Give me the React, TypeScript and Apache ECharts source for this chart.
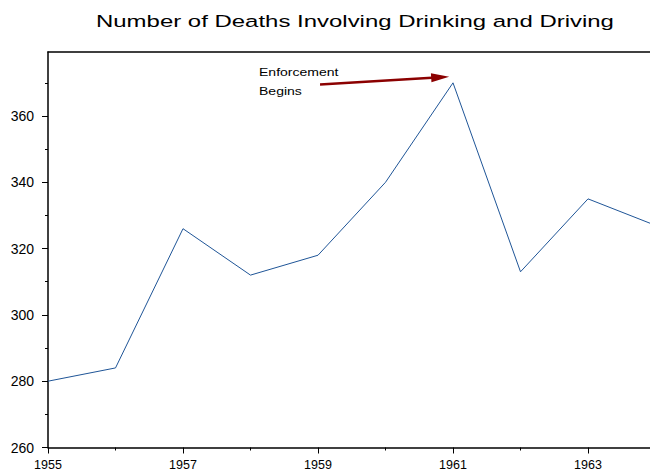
import React, { useEffect, useRef } from "react";
import * as echarts from "echarts";

const years = [1955, 1956, 1957, 1958, 1959, 1960, 1961, 1962, 1963, 1964];
const deaths = [280, 284, 326, 312, 318, 340, 370, 313, 335, 327];
const yMajorTicks = [260, 280, 300, 320, 340, 360];
const yMinorTicks = [270, 290, 310, 330, 350, 370];
const xLabelYears = [1955, 1957, 1959, 1961, 1963];
const titleText = "Number of Deaths Involving Drinking and Driving";
const noteLines = ["Enforcement", "Begins"];
const arrowFrom = [1959.03, 369.5];
const arrowTo = [1960.81, 371.7];

export default function App() {
  const ref = useRef<HTMLDivElement>(null);
  useEffect(() => {
    document.documentElement.style.overflow = "hidden";
    document.body.style.overflow = "hidden";
    document.body.style.margin = "0";
    const chart = echarts.init(ref.current!, null, { renderer: "svg" });
    const font = "Liberation Sans, Arial, sans-serif";
    const yCommon = {
      type: "value",
      min: 260,
      max: 379.3,
      position: "left",
      splitLine: { show: false },
    };
    chart.setOption({
      animation: false,
      backgroundColor: "#ffffff",
      grid: { left: 48, top: 52, width: 675, bottom: 28.5, outerBoundsMode: "none", containLabel: false },
      xAxis: [
        {
          type: "value",
          min: 1955,
          max: 1965,
          interval: 2,
          position: "bottom",
          axisLine: { show: true, onZero: false, lineStyle: { color: "#000", width: 1.5 } },
          axisTick: { show: true, length: 6, lineStyle: { color: "#000", width: 1 } },
          minorTick: { show: true, splitNumber: 2, length: 3, lineStyle: { color: "#000", width: 1 } },
          splitLine: { show: false },
          minorSplitLine: { show: false },
          axisLabel: {
            fontFamily: font,
            fontSize: 12.5,
            color: "#000",
            margin: 11,
            formatter: (v: number) => (xLabelYears.indexOf(v) >= 0 ? String(v) : ""),
          },
        },
        {
          type: "value",
          min: 1955,
          max: 1965,
          position: "top",
          axisLine: { show: true, onZero: false, lineStyle: { color: "#000", width: 1.5 } },
          axisTick: { show: false },
          axisLabel: { show: false },
          splitLine: { show: false },
        },
      ],
      yAxis: [
        {
          ...yCommon,
          axisLine: { show: true, onZero: false, lineStyle: { color: "#000", width: 1.5 } },
          axisTick: { show: true, length: 6, customValues: yMajorTicks, lineStyle: { color: "#000", width: 1 } },
          axisLabel: {
            fontFamily: font,
            fontSize: 14,
            color: "#000",
            margin: 14,
            customValues: yMajorTicks,
          },
        },
        {
          ...yCommon,
          axisLine: { show: false },
          axisTick: { show: true, length: 3, customValues: yMinorTicks, lineStyle: { color: "#000", width: 1 } },
          axisLabel: { show: false },
        },
      ],
      series: [
        {
          type: "line",
          data: years.map((y, i) => [y, deaths[i]]),
          showSymbol: false,
          symbol: "none",
          lineStyle: { color: "#1f5597", width: 1 },
          clip: true,
          markLine: {
            silent: true,
            symbol: ["none", "triangle"],
            symbolSize: [9, 18],
            label: { show: false },
            lineStyle: { color: "#8b0000", width: 2.5, type: "solid" },
            data: [[{ coord: arrowFrom }, { coord: arrowTo }]],
          },
        },
      ],
      graphic: [
        {
          type: "text",
          x: 96,
          y: 12,
          scaleX: 1.41,
          style: {
            text: titleText,
            fontFamily: font,
            fontSize: 17,
            fill: "#000",
            verticalAlign: "top",
          },
        },
        {
          type: "text",
          x: 259,
          y: 66,
          scaleX: 1.22,
          style: { text: noteLines[0], fontFamily: font, fontSize: 11.5, fill: "#000", verticalAlign: "top" },
        },
        {
          type: "text",
          x: 259,
          y: 85,
          scaleX: 1.22,
          style: { text: noteLines[1], fontFamily: font, fontSize: 11.5, fill: "#000", verticalAlign: "top" },
        },
      ],
    });
    return () => chart.dispose();
  }, []);
  return (
    <div
      ref={ref}
      style={{ position: "fixed", left: 0, top: 0, width: 723, height: 476, overflow: "hidden" }}
    />
  );
}
